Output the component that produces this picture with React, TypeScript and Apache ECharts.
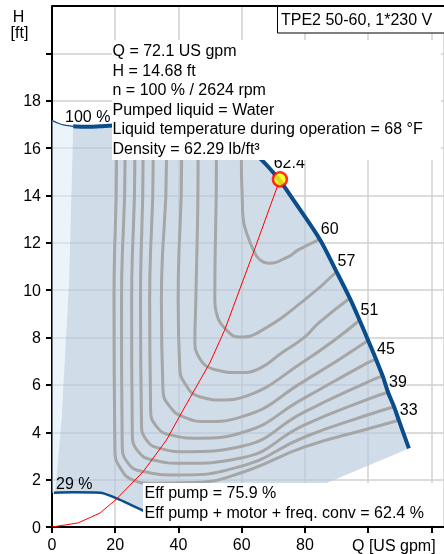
import React, { useEffect, useRef } from "react";
import * as echarts from "echarts";

const FONT = '"Liberation Sans", Arial, Helvetica, sans-serif';
const NAVY = "#0b4c8a";
const GREY = "#a6a6a6";

const xTickLabels = ["0", "20", "40", "60", "80"];
const yTickLabels = ["0", "2", "4", "6", "8", "10", "12", "14", "16", "18"];
const xAxisName = "Q [US gpm]";
const yAxisName = ["H", "[ft]"];
const titleText = "TPE2 50-60, 1*230 V";
const infoLines = [
  "Q = 72.1 US gpm",
  "H = 14.68 ft",
  "n = 100 % / 2624 rpm",
  "Pumped liquid = Water",
  "Liquid temperature during operation = 68 °F",
  "Density = 62.29 lb/ft³",
];
const effLines = ["Eff pump = 75.9 %", "Eff pump + motor + freq. conv = 62.4 %"];
const speedMaxLabel = "100 %";
const speedMinLabel = "29 %";

// 100 % speed QH curve (thin part outside the allowed range, then thick part)
const curve100Thin = [[0.3, 17.15], [2, 17.05], [4, 16.97], [6.7, 16.92]];
const curve100 = [
  [6.7, 16.92], [10, 16.9], [15, 16.92], [20, 16.95], [30, 16.95], [40, 16.85],
  [50, 16.6], [58, 16.2], [62, 15.95], [66.3, 15.5], [72, 14.64], [76.4, 13.8],
  [84.7, 12.15], [90, 10.78], [94.2, 9.66], [97.3, 8.73], [100, 7.88],
  [102.5, 7.08], [104.6, 6.38], [106.3, 5.69], [108.2, 5.08], [109.7, 4.51],
  [112.9, 3.32],
];
// 29 % speed QH curve
const curve29 = [[0.6, 1.45], [6.7, 1.47], [15.2, 1.45], [20.4, 1.21], [24.6, 0.96], [29.0, 0.68]];
// boundaries of the allowed operating area
const minFlowEdge = [[6.7, 16.92], [5.4, 10.4], [3.0, 4.5], [1.0, 1.46]];
const lowerRightEdge = [[112.9, 3.32], [86.9, 1.86], [65, 0.5], [40, 0.4], [29.0, 0.68]];

// system curve and duty point
const systemCurve = [
  [0, 0], [8.2, 0.17], [15.2, 0.59], [20.4, 1.18], [28.8, 2.33], [36.2, 3.67],
  [41.3, 4.9], [49.9, 6.92], [54.6, 8.31], [63.6, 11.55], [72.1, 14.68],
];
const dutyPoint = [72.1, 14.68];
const dutyLabel = "62.4";

// efficiency contours (Q, H)
const eff60 = [[60.2, 16.0], [59.9, 15.37], [60.2, 13.81], [60.4, 13.1], [61.6, 12.4], [64.2, 11.56], [65.8, 11.28], [68.4, 11.14], [74.7, 11.41], [77.9, 11.7], [84.7, 12.15]];
const eff57 = [[52.0, 16.0], [52.0, 15.37], [51.5, 9.59], [52.0, 9.04], [55.2, 8.32], [59.4, 8.02], [65.7, 8.25], [79.9, 9.59], [90.0, 10.78]];
const eff54 = [[46.2, 16.0], [46.2, 15.37], [45.5, 9.59], [45.2, 7.9], [46.4, 7.19], [52.0, 6.63], [59.4, 6.52], [65.7, 6.7], [72.6, 7.35], [79.9, 8.02], [84.3, 8.61], [94.2, 9.66]];
const eff51 = [[41.0, 16.0], [41.0, 15.37], [39.9, 9.59], [40.4, 6.77], [42.0, 6.07], [46.7, 5.5], [55.2, 5.36], [59.4, 5.44], [79.9, 7.01], [97.3, 8.73]];
const eff48 = [[36.2, 16.0], [36.2, 15.37], [34.6, 9.59], [35.1, 5.79], [37.3, 5.08], [41.5, 4.66], [48.9, 4.45], [59.4, 4.63], [79.9, 6.17], [100.0, 7.88]];
const eff45 = [[32.0, 16.0], [32.0, 15.37], [30.9, 9.59], [31.2, 4.94], [33.1, 4.24], [37.3, 3.89], [46.7, 3.75], [59.4, 3.96], [79.9, 5.45], [99.8, 6.93], [102.5, 7.08]];
const eff42 = [[28.8, 16.0], [28.8, 15.37], [28.0, 9.59], [28.3, 4.38], [29.9, 3.67], [34.1, 3.32], [42.5, 3.18], [59.4, 3.39], [79.9, 4.86], [99.8, 6.12], [104.6, 6.38]];
const eff39 = [[26.2, 16.0], [26.2, 15.37], [25.2, 9.59], [25.4, 3.96], [27.3, 3.18], [32.0, 2.83], [41.5, 2.69], [59.4, 2.9], [79.9, 4.31], [99.8, 5.39], [106.3, 5.69]];
const eff36 = [[23.1, 16.0], [23.1, 15.37], [22.0, 9.59], [22.2, 3.53], [24.1, 2.69], [28.8, 2.34], [39.4, 2.2], [59.4, 2.55], [79.9, 3.8], [99.8, 4.73], [108.2, 5.08]];
const eff33 = [[20.4, 16.0], [20.4, 15.37], [19.6, 9.59], [19.9, 3.25], [22.0, 2.41], [25.7, 1.98], [30.9, 1.85], [45, 1.88], [59.4, 2.27], [79.9, 3.38], [99.8, 4.14], [109.7, 4.51]];

const effContours = [eff60, eff57, eff54, eff51, eff48, eff45, eff42, eff39, eff36, eff33];
const effLabelTexts = ["60", "57", "51", "45", "39", "33"];
const effLabelCurves = [eff60, eff57, eff51, eff45, eff39, eff33];

function polygonSeries(points: number[][], fill: string, z: number) {
  return {
    type: "custom",
    coordinateSystem: "cartesian2d",
    data: [[0, 0]],
    z,
    silent: true,
    renderItem: (_params: any, api: any) => ({
      type: "polygon",
      shape: { points: points.map((p) => api.coord(p)) },
      style: { fill, stroke: "none" },
    }),
  };
}

function text(x: number, y: number, t: string, extra: any = {}) {
  return {
    type: "text",
    x,
    y,
    z: 110,
    style: {
      text: t,
      fontSize: 16,
      fontFamily: FONT,
      fill: "#000",
      align: "left",
      verticalAlign: "middle",
      ...extra,
    },
  };
}

export default function App() {
  const ref = useRef<HTMLDivElement>(null);

  useEffect(() => {
    const chart = echarts.init(ref.current!, null, { renderer: "svg" });

    const lightPoly = [[0, 17.2], ...curve100Thin, ...minFlowEdge.slice(1), [0.6, 1.45], [0, 1.45]];
    const darkPoly = [
      ...curve100,
      ...lowerRightEdge.slice(1),
      ...curve29.slice().reverse().slice(1),
      ...minFlowEdge.slice().reverse(),
    ];

    const contourSeries = effContours.map((c) => ({
      type: "line",
      data: c,
      showSymbol: false,
      symbol: "none",
      smooth: 0.5,
      silent: true,
      z: 3,
      lineStyle: { color: GREY, width: 3 },
    }));

    const labelData = effLabelCurves.map((c, i) => ({
      value: c[c.length - 1],
      name: effLabelTexts[i],
    }));

    const labelStyle = {
      show: true,
      formatter: (p: any) => p.name,
      align: "left",
      verticalAlign: "middle",
      fontSize: 16,
      fontFamily: FONT,
      color: "#000",
      opacity: 1,
    };

    const option: any = {
      animation: false,
      grid: { left: 52, top: 6, right: -1, bottom: 27, containLabel: false },
      xAxis: {
        type: "value",
        min: 0,
        max: 124,
        interval: 20,
        axisLine: { show: true, onZero: false, lineStyle: { color: "#000", width: 2 } },
        axisTick: { show: true, length: 6, lineStyle: { color: "#000", width: 2 } },
        axisLabel: {
          fontSize: 16,
          fontFamily: FONT,
          color: "#000",
          margin: 9,
          showMaxLabel: false,
          formatter: (v: number) => (xTickLabels.includes(String(v)) ? String(v) : ""),
        },
        splitLine: { show: true, lineStyle: { color: "#d0d0d0", width: 1.5 } },
      },
      yAxis: {
        type: "value",
        min: 0,
        max: 22,
        interval: 2,
        axisLine: { show: true, onZero: false, lineStyle: { color: "#000", width: 2 } },
        axisTick: { show: true, length: 6, lineStyle: { color: "#000", width: 2 } },
        axisLabel: {
          fontSize: 16,
          fontFamily: FONT,
          color: "#000",
          margin: 11,
          showMaxLabel: false,
          formatter: (v: number) => (yTickLabels.includes(String(v)) ? String(v) : ""),
        },
        splitLine: { show: true, lineStyle: { color: "#d0d0d0", width: 1.5 } },
      },
      series: [
        polygonSeries(lightPoly, "rgba(215,233,248,0.5)", 1),
        polygonSeries(darkPoly, "rgba(185,203,221,0.67)", 1),
        ...contourSeries,
        {
          type: "line",
          data: curve100Thin,
          showSymbol: false,
          symbol: "none",
          smooth: 0.3,
          silent: true,
          z: 4,
          lineStyle: { color: NAVY, width: 1.2 },
        },
        {
          type: "line",
          data: curve100,
          showSymbol: false,
          symbol: "none",
          smooth: 0.3,
          silent: true,
          z: 4,
          lineStyle: { color: NAVY, width: 4 },
        },
        {
          type: "line",
          data: curve29,
          showSymbol: false,
          symbol: "none",
          smooth: 0.3,
          silent: true,
          z: 4,
          lineStyle: { color: NAVY, width: 2.5 },
        },
        {
          type: "line",
          data: systemCurve,
          showSymbol: false,
          symbol: "none",
          silent: true,
          z: 5,
          lineStyle: { color: "#ff0000", width: 1 },
        },
        {
          type: "scatter",
          data: labelData,
          symbol: "circle",
          symbolSize: 0,
          silent: true,
          z: 6,
          itemStyle: { color: "#000", opacity: 1 },
          label: { ...labelStyle, position: [1, -11] },
        },
        {
          type: "scatter",
          data: [{ value: dutyPoint, name: dutyLabel }],
          symbol: "circle",
          symbolSize: 14,
          silent: true,
          z: 7,
          itemStyle: { color: "#ffff00", borderColor: "#ff0000", borderWidth: 2.5 },
          label: { ...labelStyle, position: [2, -9] },
        },
      ],
      graphic: [
        {
          type: "line",
          z: 105,
          shape: { x1: 52, y1: 6, x2: 446, y2: 6 },
          style: { stroke: "#000", lineWidth: 2 },
        },
        {
          type: "rect",
          z: 106,
          shape: { x: 112, y: 40, width: 329, height: 120 },
          style: { fill: "#fff", stroke: "none" },
        },
        ...infoLines.map((t, i) => text(112.5, 50.5 + i * 19.6, t)),
        {
          type: "rect",
          z: 106,
          shape: { x: 143, y: 483, width: 292, height: 42 },
          style: { fill: "#fff", stroke: "none" },
        },
        ...effLines.map((t, i) => text(144.5, 492 + i * 20.3, t)),
        {
          type: "rect",
          z: 107,
          shape: { x: 277.5, y: 6.5, width: 175, height: 26.5 },
          style: { fill: "#fff", stroke: "#000", lineWidth: 1 },
        },
        text(281, 19.5, titleText),
        text(65, 116, speedMaxLabel),
        text(56, 483, speedMinLabel),
        text(18.5, 16.5, yAxisName[0], { align: "center" }),
        text(19.5, 32, yAxisName[1], { align: "center" }),
        text(352, 545, xAxisName),
      ],
    };

    chart.setOption(option);
    return () => chart.dispose();
  }, []);

  return (
    <div
      ref={ref}
      style={{ position: "fixed", left: 0, top: 0, width: 444, height: 554 }}
    />
  );
}
